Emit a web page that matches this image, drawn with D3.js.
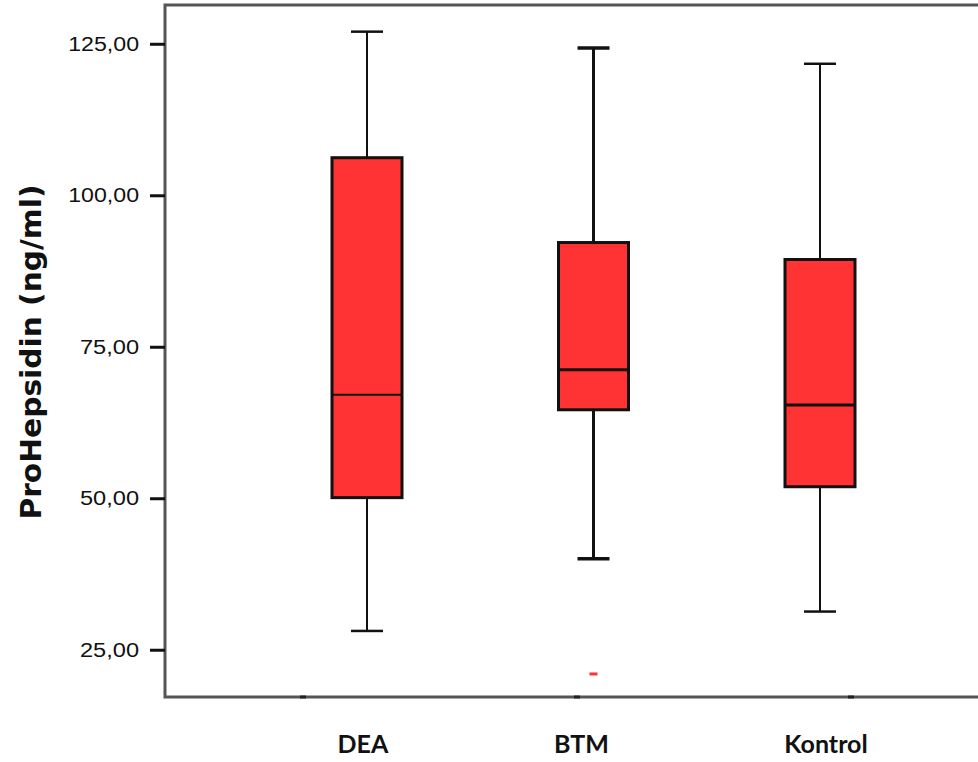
<!DOCTYPE html>
<html>
<head>
<meta charset="utf-8">
<script src="https://cdn.jsdelivr.net/npm/d3@7"></script>
<style>
  body { margin: 0; background: #fff; }
  svg { display: block; }
</style>
</head>
<body>
<div id="chart"></div>
<script>
// group names and box plot stats
var groups = ['DEA', 'BTM', 'Kontrol']
var whiskerLow  = [28.1, 40.0, 31.3]
var q1          = [50.1, 64.6, 51.9]
var median      = [67.1, 71.2, 65.4]
var q3          = [106.2, 92.2, 89.4]
var whiskerHigh = [127.0, 124.3, 121.7]
var outliers    = [{group: 'BTM', value: 21.0}]
var yTicks = [25, 50, 75, 100, 125]
var xTickMarks = [0, 1, 2]

var width = 978, height = 762

var svg = d3.select('#chart').append('svg')
  .attr('width', width).attr('height', height)

var y = d3.scaleLinear().domain([17.2, 131.4]).range([697, 5])
var x = d3.scalePoint().domain(groups).range([367, 820])
// the small marks on the bottom line sit between, not under, the boxes
var xMark = d3.scaleLinear().domain([0, 2]).range([303, 851])

var boxW = 70, capW = 32

var rows = groups.map((g, i) => ({
  group: g, lo: whiskerLow[i], q1: q1[i], med: median[i], q3: q3[i], hi: whiskerHigh[i]
}))

// frame
var frame = svg.append('g').attr('stroke', '#555').attr('stroke-width', 3).attr('fill', 'none')
frame.append('path').attr('d', `M${width + 5},5 H165 V697 H${width + 5}`)

svg.append('g').selectAll('line').data(xTickMarks).join('line')
  .attr('x1', d => xMark(d) - 3).attr('x2', d => xMark(d) + 3)
  .attr('y1', 697).attr('y2', 697)
  .attr('stroke', '#222').attr('stroke-width', 3)

// y axis
var fmt = d => d3.format('.2f')(d).replace('.', ',')
var yAxis = svg.append('g').attr('transform', 'translate(165,0)')
  .call(d3.axisLeft(y).tickValues(yTicks).tickSize(15).tickPadding(11).tickFormat(fmt))
yAxis.select('.domain').remove()
yAxis.selectAll('.tick line').attr('stroke', '#111').attr('stroke-width', 3)
yAxis.selectAll('.tick text')
  .attr('font-family', "'Liberation Sans', Arial, sans-serif")
  .attr('font-size', 20).attr('fill', '#111')
  .attr('textLength', d => fmt(d).length * 11.8)
  .attr('lengthAdjust', 'spacingAndGlyphs')

svg.append('text')
  .attr('transform', 'translate(41,352) rotate(-90)')
  .attr('text-anchor', 'middle')
  .attr('font-family', "'DejaVu Sans', sans-serif")
  .attr('font-weight', 'bold').attr('font-size', 28)
  .attr('textLength', 335).attr('lengthAdjust', 'spacingAndGlyphs')
  .attr('fill', '#111')
  .text('ProHepsidin (ng/ml)')

// boxes
var boxG = svg.append('g').selectAll('g').data(rows).join('g')
  .attr('transform', d => `translate(${x(d.group)},0)`)

boxG.append('line')
  .attr('y1', d => y(d.hi)).attr('y2', d => y(d.q3))
  .attr('stroke', '#111').attr('stroke-width', d => d.group == 'BTM' ? 3 : 2)
boxG.append('line')
  .attr('y1', d => y(d.q1)).attr('y2', d => y(d.lo))
  .attr('stroke', '#111').attr('stroke-width', d => d.group == 'BTM' ? 3 : 2)

boxG.selectAll('line.cap').data(d => [d.hi, d.lo].map(v => ({v, g: d.group}))).join('line')
  .attr('class', 'cap')
  .attr('x1', -capW / 2).attr('x2', capW / 2)
  .attr('y1', d => y(d.v)).attr('y2', d => y(d.v))
  .attr('stroke', '#111').attr('stroke-width', d => d.g == 'BTM' ? 3.5 : 2.5)

boxG.append('rect')
  .attr('x', -boxW / 2).attr('width', boxW)
  .attr('y', d => y(d.q3)).attr('height', d => y(d.q1) - y(d.q3))
  .attr('fill', '#ff3333').attr('stroke', '#111').attr('stroke-width', 3)

boxG.append('line')
  .attr('x1', -boxW / 2).attr('x2', boxW / 2)
  .attr('y1', d => y(d.med)).attr('y2', d => y(d.med))
  .attr('stroke', '#111').attr('stroke-width', d => d.group == 'DEA' ? 2 : 3)

// outliers
svg.append('g').selectAll('rect').data(outliers).join('rect')
  .attr('x', d => x(d.group) - 4).attr('width', 8)
  .attr('y', d => y(d.value) - 1.5).attr('height', 3)
  .attr('fill', '#ff3333')

// group labels
svg.append('g').selectAll('text').data(groups).join('text')
  .attr('x', d => x(d) + (d == 'Kontrol' ? 6 : d == 'BTM' ? -12 : -4))
  .attr('y', 753)
  .attr('text-anchor', 'middle')
  .attr('font-family', 'Lato, Open Sans, sans-serif')
  .attr('font-weight', 'bold').attr('font-size', 25)
  .attr('fill', '#111')
  .text(d => d)
</script>
</body>
</html>
